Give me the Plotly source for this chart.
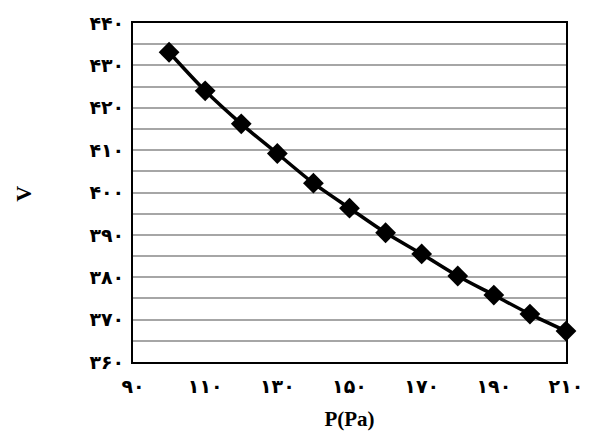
import plotly.graph_objects as go

p_values = [100, 110, 120, 130, 140, 150, 160, 170, 180, 190, 200, 210]
v_values = [433.1, 424.0, 416.2, 409.2, 402.2, 396.3, 390.5, 385.5, 380.3, 375.8, 371.3, 367.3]

x_tick_vals = [90, 110, 130, 150, 170, 190, 210]
x_tick_text = ["۹۰", "۱۱۰", "۱۳۰", "۱۵۰", "۱۷۰", "۱۹۰", "۲۱۰"]
y_tick_vals = [360, 370, 380, 390, 400, 410, 420, 430, 440]
y_tick_text = ["۳۶۰", "۳۷۰", "۳۸۰", "۳۹۰", "۴۰۰", "۴۱۰", "۴۲۰", "۴۳۰", "۴۴۰"]

font_fam = "Liberation Serif, DejaVu Sans, serif"
tick_fam = "DejaVu Sans, sans-serif"

fig = go.Figure()
fig.add_trace(go.Scatter(
    x=p_values, y=v_values, mode="lines+markers",
    line=dict(color="black", width=3.5, shape="spline", smoothing=0.8),
    marker=dict(symbol="diamond", size=16, color="black"),
    cliponaxis=False, showlegend=False,
))

fig.update_layout(
    width=595, height=439,
    margin=dict(l=133, r=28, t=16, b=77),
    paper_bgcolor="white", plot_bgcolor="white",
    font=dict(family=font_fam, color="black", size=14),
    xaxis=dict(
        range=[90, 210], tickvals=x_tick_vals, ticktext=x_tick_text,
        showgrid=False, zeroline=False, showline=True, linecolor="black", linewidth=2,
        mirror=True, ticks="", ticklen=0, ticklabelstandoff=6,
        tickfont=dict(family=tick_fam, size=19, color="black", weight="bold"),
        title=dict(text="<b>P(Pa)</b>", font=dict(family=font_fam, size=21), standoff=16),
    ),
    yaxis=dict(
        range=[360, 440], tickvals=y_tick_vals, ticktext=y_tick_text,
        showgrid=True, gridcolor="#a6a6a6", gridwidth=1.5,
        minor=dict(dtick=5, tick0=360, showgrid=True, gridcolor="#a6a6a6", gridwidth=1.5),
        zeroline=False, showline=True, linecolor="black", linewidth=2,
        mirror=True, ticks="", ticklen=0, ticklabelstandoff=3,
        tickfont=dict(family=tick_fam, size=19, color="black", weight="bold"),
    ),
    annotations=[dict(
        text="<b>V</b>", xref="paper", yref="paper", x=-0.2535, y=0.497,
        xanchor="center", yanchor="middle", textangle=-90, showarrow=False,
        font=dict(family=font_fam, size=22, color="black"),
    )],
)

fig.write_html("out.html")
